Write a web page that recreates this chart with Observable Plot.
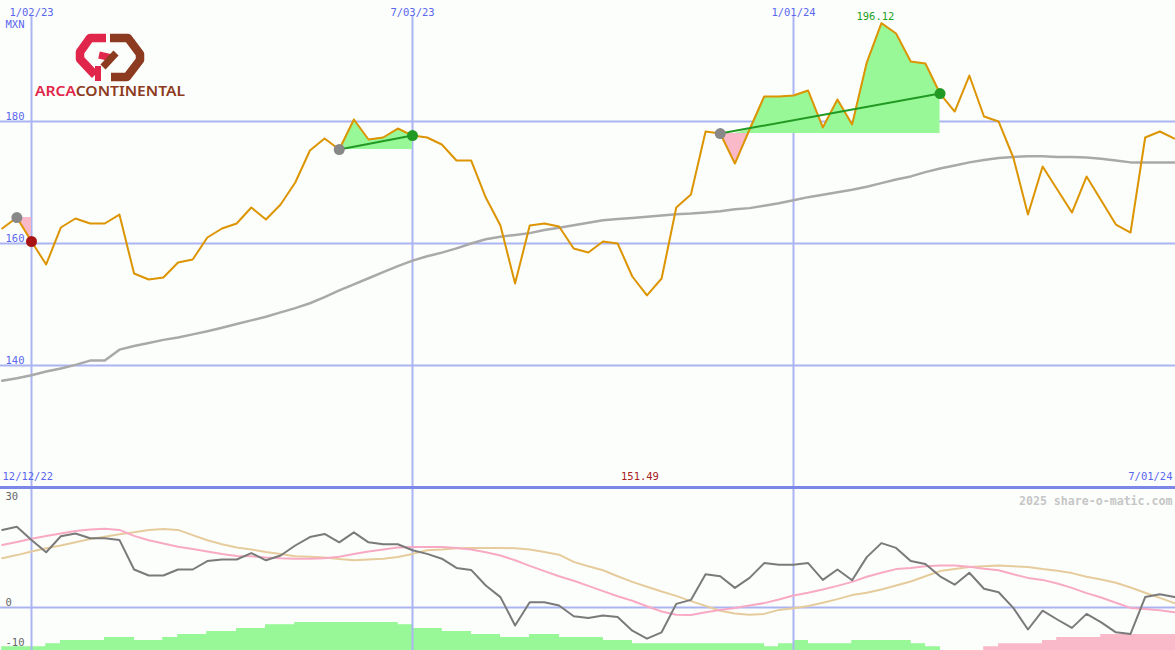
<!DOCTYPE html>
<html><head><meta charset="utf-8">
<script src="https://cdn.jsdelivr.net/npm/d3@7"></script>
<script src="https://cdn.jsdelivr.net/npm/@observablehq/plot@0.6"></script>
<style>
body{margin:0;background:#fcfefc;}
#wrap{position:relative;width:1175px;height:650px;overflow:hidden;background:#fcfefc;}
#top{position:absolute;left:0;top:0;}
#bot{position:absolute;left:0;top:486px;}
#logo{position:absolute;left:0;top:0;pointer-events:none;}
</style></head><body>
<div id="wrap"><div id="top"></div><div id="bot"></div>
<svg id="logo" width="200" height="105" viewBox="0 0 200 105">
  <g fill="none" stroke-linejoin="round" stroke-linecap="butt">
    <path d="M106,38 L90,38 L80,52 L80,59 L95,75" stroke="#e0264a" stroke-width="8.5"/>
    <path d="M98,66 L98,81" stroke="#e0264a" stroke-width="6"/>
    <path d="M99,55 L112,58" stroke="#e0264a" stroke-width="7"/>
    <path d="M110,38 L128,38 L140,54 L140,60 L127,77 L111,77" stroke="#8c3a20" stroke-width="8.5"/>
    <path d="M103,67 L116,53" stroke="#8c3a20" stroke-width="7"/>
  </g>
  <text x="35" y="96" font-family="Noto Sans" font-weight="600" font-size="14.5" textLength="150" lengthAdjust="spacingAndGlyphs"><tspan fill="#e0264a">ARCA</tspan><tspan fill="#8c3a20">CONTINENTAL</tspan></text>
</svg>
</div>
<script>
// ---------- data ----------
const startDate = "2022-12-19"; // first weekly observation
const price = [162.46,164.26,160.33,156.56,162.62,164.10,163.28,163.28,164.75,155.08,
154.10,154.43,156.89,157.38,160.98,162.46,163.28,165.90,163.93,166.39,
170.00,175.25,177.21,175.41,180.33,177.05,177.38,178.85,177.70,177.38,
176.23,173.61,173.61,167.54,162.95,153.44,162.95,163.28,162.79,159.18,
158.52,160.33,160.00,154.59,151.49,154.26,165.90,168.03,178.36,178.03,
173.11,178.69,184.10,184.10,184.26,185.08,179.02,183.61,179.51,189.67,
196.12,194.43,189.84,189.51,184.59,181.64,187.54,180.82,180.00,174.10,
164.75,172.62,168.85,165.08,170.98,167.05,163.11,161.80,177.38,178.36,
177.21];
const ma = [137.5,137.9,138.4,139.0,139.5,140.1,140.8,140.8,142.6,143.2,
143.7,144.2,144.6,145.1,145.6,146.2,146.8,147.4,148.0,148.7,
149.4,150.2,151.2,152.3,153.3,154.3,155.3,156.3,157.2,157.9,
158.5,159.2,160.0,160.7,161.1,161.4,161.7,162.2,162.6,163.0,
163.4,163.8,164.0,164.2,164.4,164.6,164.8,164.9,165.1,165.3,
165.6,165.8,166.2,166.6,167.1,167.6,168.0,168.4,168.8,169.3,
169.9,170.5,171.0,171.7,172.3,172.8,173.3,173.7,174.0,174.2,
174.3,174.3,174.2,174.2,174.1,173.9,173.6,173.3,173.3,173.3,
173.3];
const osc = [19.4,20.2,16.9,13.8,17.8,18.5,17.3,17.3,16.9,9.5,
8.0,8.0,9.5,9.5,11.6,12.0,12.0,13.6,11.8,13.0,
15.5,17.6,18.4,16.3,18.8,16.3,15.8,15.8,14.3,13.4,
12.2,9.9,9.4,5.5,2.6,-4.5,1.3,1.3,0.5,-2.2,
-2.6,-2.0,-2.4,-5.8,-7.8,-6.2,0.9,1.9,8.3,7.8,
4.9,7.4,11.1,10.7,10.7,11.1,6.9,9.5,6.8,12.6,
16.1,14.9,11.6,10.9,7.8,5.7,8.7,4.7,3.8,-0.1,
-5.5,-0.8,-3.0,-5.1,-1.6,-3.7,-6.2,-6.6,2.6,3.3,
2.6];
const sig1 = [15.6,16.4,17.2,17.9,18.5,19.1,19.5,19.7,19.4,17.9,
16.8,16.0,15.2,14.6,14.0,13.4,12.9,12.8,12.5,12.3,
12.2,12.2,12.3,12.7,13.4,14.0,14.5,15.0,15.1,15.1,
15.1,14.9,14.5,13.8,13.0,11.8,10.4,9.1,7.8,6.7,
5.4,4.1,2.8,1.7,0.3,-1.0,-1.8,-1.9,-1.2,-0.6,
-0.1,0.5,1.1,2.0,3.0,3.7,4.5,5.4,6.4,7.7,
8.7,9.6,9.9,10.3,10.5,10.5,10.2,9.7,9.3,8.3,
7.4,6.9,6.0,4.9,3.6,2.5,1.2,-0.1,-0.4,-0.7,
-1.2];
const sig2 = [12.3,13.1,14.0,14.8,15.5,16.3,17.1,17.7,18.3,18.8,
19.4,19.6,19.4,18.1,16.8,15.8,15.0,14.5,13.9,13.4,
12.8,12.7,12.5,12.1,11.8,12.0,12.2,12.6,13.4,14.3,
14.5,14.8,14.9,14.9,14.9,14.8,14.5,13.9,13.2,11.4,
10.3,9.3,7.8,6.4,5.2,4.0,2.9,1.6,0.4,-0.8,
-1.5,-1.8,-1.6,-0.6,-0.2,0.4,1.2,2.1,3.1,3.7,
4.5,5.5,6.5,7.8,9.1,9.6,10.1,10.3,10.5,10.3,
10.1,9.6,9.2,8.6,7.7,7.0,6.2,5.0,3.7,2.4,
1.1];
const hist = [0.8,0.8,0.8,1.6,2.4,2.4,2.4,3.2,3.2,2.4,
2.4,3.2,3.9,3.9,4.7,4.7,5.5,5.5,6.3,6.3,
7.0,7.0,7.0,7.0,7.0,7.0,7.0,6.3,5.5,5.5,
4.7,4.7,3.9,3.9,3.2,3.2,3.9,3.9,3.2,3.2,
3.2,2.4,2.4,1.6,1.6,1.6,1.6,1.6,1.6,1.6,
1.6,1.6,0.8,1.6,2.4,1.6,1.6,1.6,2.4,2.4,
2.4,2.4,1.6,0.8,0,0,0,-0.8,-1.6,-1.6,
-1.6,-2.4,-3.2,-3.2,-3.2,-3.9,-3.9,-3.9,-3.9,-3.9,
-3.9];
const trades = [{entry:1, exit:2}, {entry:23, exit:28}, {entry:49, exit:64}];
const gridDates = ["2023-01-02","2023-07-03","2024-01-01"];
const gridLabels = ["1/02/23","7/03/23","1/01/24"];
const priceTicks = [140,160,180];
const oscTicks = [30,0,-10];
const unitLabel = "MXN";
const stripLabels = ["12/12/22","7/01/24"];
const watermark = "2025 share-o-matic.com";

// ---------- layout ----------
const W = 1175, HT = 486, HB = 164;
const parse = d3.utcParse("%Y-%m-%d");
const start = parse(startDate);
const dates = price.map((_, k) => d3.utcDay.offset(start, 7 * k));
const gd = gridDates.map(parse);
const px0 = 31, px2 = 793;
const msPerPx = (gd[2] - gd[0]) / (px2 - px0);
const xDomain = [new Date(+gd[0] - px0 * msPerPx), new Date(+gd[0] + (W - px0) * msPerPx)];
const yTop = [120.16, 199.84];
const yBot = [-10.75, 30.25];

const blue = "#5a66ee", grid = "#aab4f0";
const font = {background: "transparent", fontFamily: "DejaVu Sans Mono", fontSize: "10.5px"};

const rows = dates.map((d, k) => ({date: d, price: price[k], ma: ma[k]}));
const areaRows = trades.flatMap((t, i) => d3.range(t.entry, t.exit + 1).map(k => ({trade: i, date: dates[k], base: price[t.entry], p: price[k]})));
const tradeRows = trades.map(t => ({x1: dates[t.entry], y1: price[t.entry], x2: dates[t.exit], y2: price[t.exit], win: price[t.exit] > price[t.entry]}));
const kMax = d3.maxIndex(price), kMin = d3.minIndex(price);

const topPlot = Plot.plot({
  width: W, height: HT, margin: 0,
  x: {type: "utc", domain: xDomain, axis: null},
  y: {domain: yTop, axis: null},
  style: font,
  marks: [
    Plot.ruleY(priceTicks, {stroke: grid, strokeWidth: 2}),
    Plot.ruleX(gd, {x: d => d, stroke: grid, strokeWidth: 2, insetTop: 16}),
    Plot.line(rows, {x: "date", y: "ma", stroke: "#a9a9a9", strokeWidth: 2.5}),
    Plot.areaY(areaRows, {x: "date", y1: "base", y2: d => Math.max(d.p, d.base), z: "trade", fill: "#98f898"}),
    Plot.areaY(areaRows, {x: "date", y1: "base", y2: d => Math.min(d.p, d.base), z: "trade", fill: "#f9b9c9"}),
    Plot.line(rows, {x: "date", y: "price", stroke: "#dc9400", strokeWidth: 2}),
    Plot.link(tradeRows.filter(d => d.win), {x1: "x1", y1: "y1", x2: "x2", y2: "y2", stroke: "#229922", strokeWidth: 2}),
    Plot.dot(tradeRows, {x: "x1", y: "y1", r: 5.5, fill: "#888888"}),
    Plot.dot(tradeRows.filter(d => d.win), {x: "x2", y: "y2", r: 5.5, fill: "#229922"}),
    Plot.dot(tradeRows.filter(d => !d.win), {x: "x2", y: "y2", r: 5.5, fill: "#a81414"}),
    Plot.text(gd, {x: d => d, text: (d, i) => gridLabels[i], frameAnchor: "top", dy: 8, fill: blue}),
    Plot.text([unitLabel], {text: d => d, frameAnchor: "top-left", textAnchor: "start", dx: 5, dy: 20, fill: blue}),
    Plot.text(priceTicks, {y: d => d, text: d => String(d), frameAnchor: "left", textAnchor: "start", dx: 5, dy: -5, fill: blue}),
    Plot.text([kMax], {x: k => dates[k], y: k => price[k], text: k => price[k].toFixed(2), dx: -6, dy: -7, fill: "#22a022"}),
    Plot.text([kMin], {x: k => dates[k], text: k => price[k].toFixed(2), frameAnchor: "bottom", dx: -7, dy: -7, fill: "#a82020"}),
    Plot.text([stripLabels[0]], {text: d => d, frameAnchor: "bottom-left", textAnchor: "start", dx: 2, dy: -7, fill: blue}),
    Plot.text([stripLabels[1]], {text: d => d, frameAnchor: "bottom-right", textAnchor: "end", dx: -3, dy: -7, fill: blue})
  ]
});
document.getElementById("top").appendChild(topPlot);

const oscRows = dates.map((d, k) => ({date: d, next: d3.utcDay.offset(d, 7), osc: osc[k], s1: sig1[k], s2: sig2[k], h: hist[k]}));
const botPlot = Plot.plot({
  width: W, height: HB, margin: 0,
  x: {type: "utc", domain: xDomain, axis: null},
  y: {domain: yBot, axis: null},
  style: font,
  marks: [
    Plot.rect(oscRows.filter(d => d.h > 0), {x1: "date", x2: "next", y1: d => yBot[0], y2: d => yBot[0] + d.h, fill: "#98f898", stroke: "#98f898", strokeWidth: 0.8, inset: 0, shapeRendering: "crispEdges"}),
    Plot.rect(oscRows.filter(d => d.h < 0), {x1: "date", x2: "next", y1: d => yBot[0], y2: d => yBot[0] - d.h, fill: "#f9b9c9", stroke: "#f9b9c9", strokeWidth: 0.8, inset: 0, shapeRendering: "crispEdges"}),
    Plot.ruleX(gd, {x: d => d, stroke: grid, strokeWidth: 2}),
    Plot.ruleY([0], {stroke: grid, strokeWidth: 2}),
    Plot.ruleY([30], {stroke: "#7b88e8", strokeWidth: 3}),
    Plot.line(oscRows, {x: "date", y: "s2", stroke: "#e6cc9c", strokeWidth: 2}),
    Plot.line(oscRows, {x: "date", y: "s1", stroke: "#f8aac4", strokeWidth: 2}),
    Plot.line(oscRows, {x: "date", y: "osc", stroke: "#7a7a7a", strokeWidth: 2}),
    Plot.text(oscTicks.filter(d => d === d3.max(oscTicks)), {y: d => d, text: d => String(d), frameAnchor: "left", textAnchor: "start", dx: 5, dy: 9, fill: "#666"}),
    Plot.text(oscTicks.filter(d => d !== d3.max(oscTicks)), {y: d => d, text: d => String(d), frameAnchor: "left", textAnchor: "start", dx: 5, dy: -5, fill: "#666"}),
    Plot.text([watermark], {text: d => d, frameAnchor: "top-right", textAnchor: "end", dx: -3, dy: 10, fill: "#c6c6c6", fontWeight: "bold", fontSize: 11.6})
  ]
});
document.getElementById("bot").appendChild(botPlot);
</script>
</body></html>
